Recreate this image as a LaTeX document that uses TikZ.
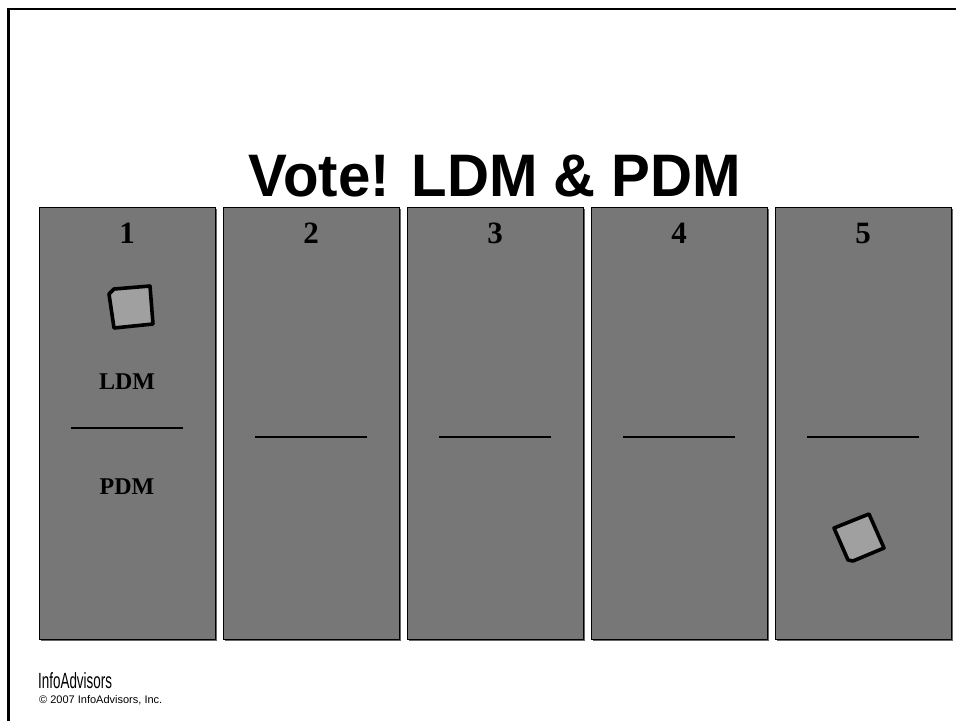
\documentclass[tikz,border=0pt]{standalone}
\usepackage{fontspec}
\setmainfont{Liberation Serif}
\newfontfamily\titlefont{Liberation Sans}
\definecolor{panelgray}{HTML}{777777}
\definecolor{cardgray}{HTML}{A0A0A0}
\begin{document}
\begin{tikzpicture}[x=1pt,y=-1pt,
  panel/.style={draw=black,line width=1.1pt,fill=panelgray,minimum width=176pt,minimum height=432pt,anchor=north west,inner sep=0pt},
  num/.style={font=\bfseries\fontsize{31}{31}\selectfont,anchor=base,inner sep=0pt},
  lab/.style={font=\bfseries\fontsize{24}{24}\selectfont,anchor=base,inner sep=0pt},
  rule/.style={line width=1.3pt,black},
  card/.style={draw=black,line width=3.6pt,fill=cardgray,line join=round}]
\useasboundingbox (0,0) rectangle (956,721);
\fill[white] (0,0) rectangle (956,721);
% frame
\draw[line width=2.2pt] (8.5,721) -- (8.5,9) -- (956,9);
% title
\node[font=\titlefont\bfseries\fontsize{60}{60}\selectfont,anchor=base,inner sep=0pt] (title) at (495,196) {\scalebox{0.97}[1]{Vote! LDM \& PDM}};
% panels
\foreach \i/\x in {1/39,2/223,3/407,4/591,5/775}{
  \fill[black!60] (\x+2,209) rectangle (\x+178,641);
  \node[panel] (p\i) at (\x,207) {};
  \node[num] (n\i) at (\x+88,243) {\i};
}
\foreach \i/\x in {2/223,3/407,4/591,5/775}{
  \draw[rule] (\x+32,437) -- (\x+144,437);
}
% panel 1 labels
\node[lab] (ldm) at (127,389) {LDM};
\draw[rule] (71,428) -- (183,428);
\node[lab] (pdm) at (127,494) {PDM};
% cards
\draw[card] (109,294) -- (114,289) -- (150,286) -- (153,324) -- (114,328) -- cycle;
\draw[card] (834,528) -- (869,514) -- (884,548) -- (853,561) -- (848,560) -- cycle;
% footer
\node[font=\titlefont\fontsize{22}{22}\selectfont,anchor=base west,inner sep=0pt] (brand) at (38,688) {\scalebox{0.61}[1]{InfoAdvisors}};
\node[font=\titlefont\fontsize{11}{11}\selectfont,anchor=base west,inner sep=0pt] (copy) at (39,703) {© 2007 InfoAdvisors, Inc.};
\end{tikzpicture}
\end{document}
